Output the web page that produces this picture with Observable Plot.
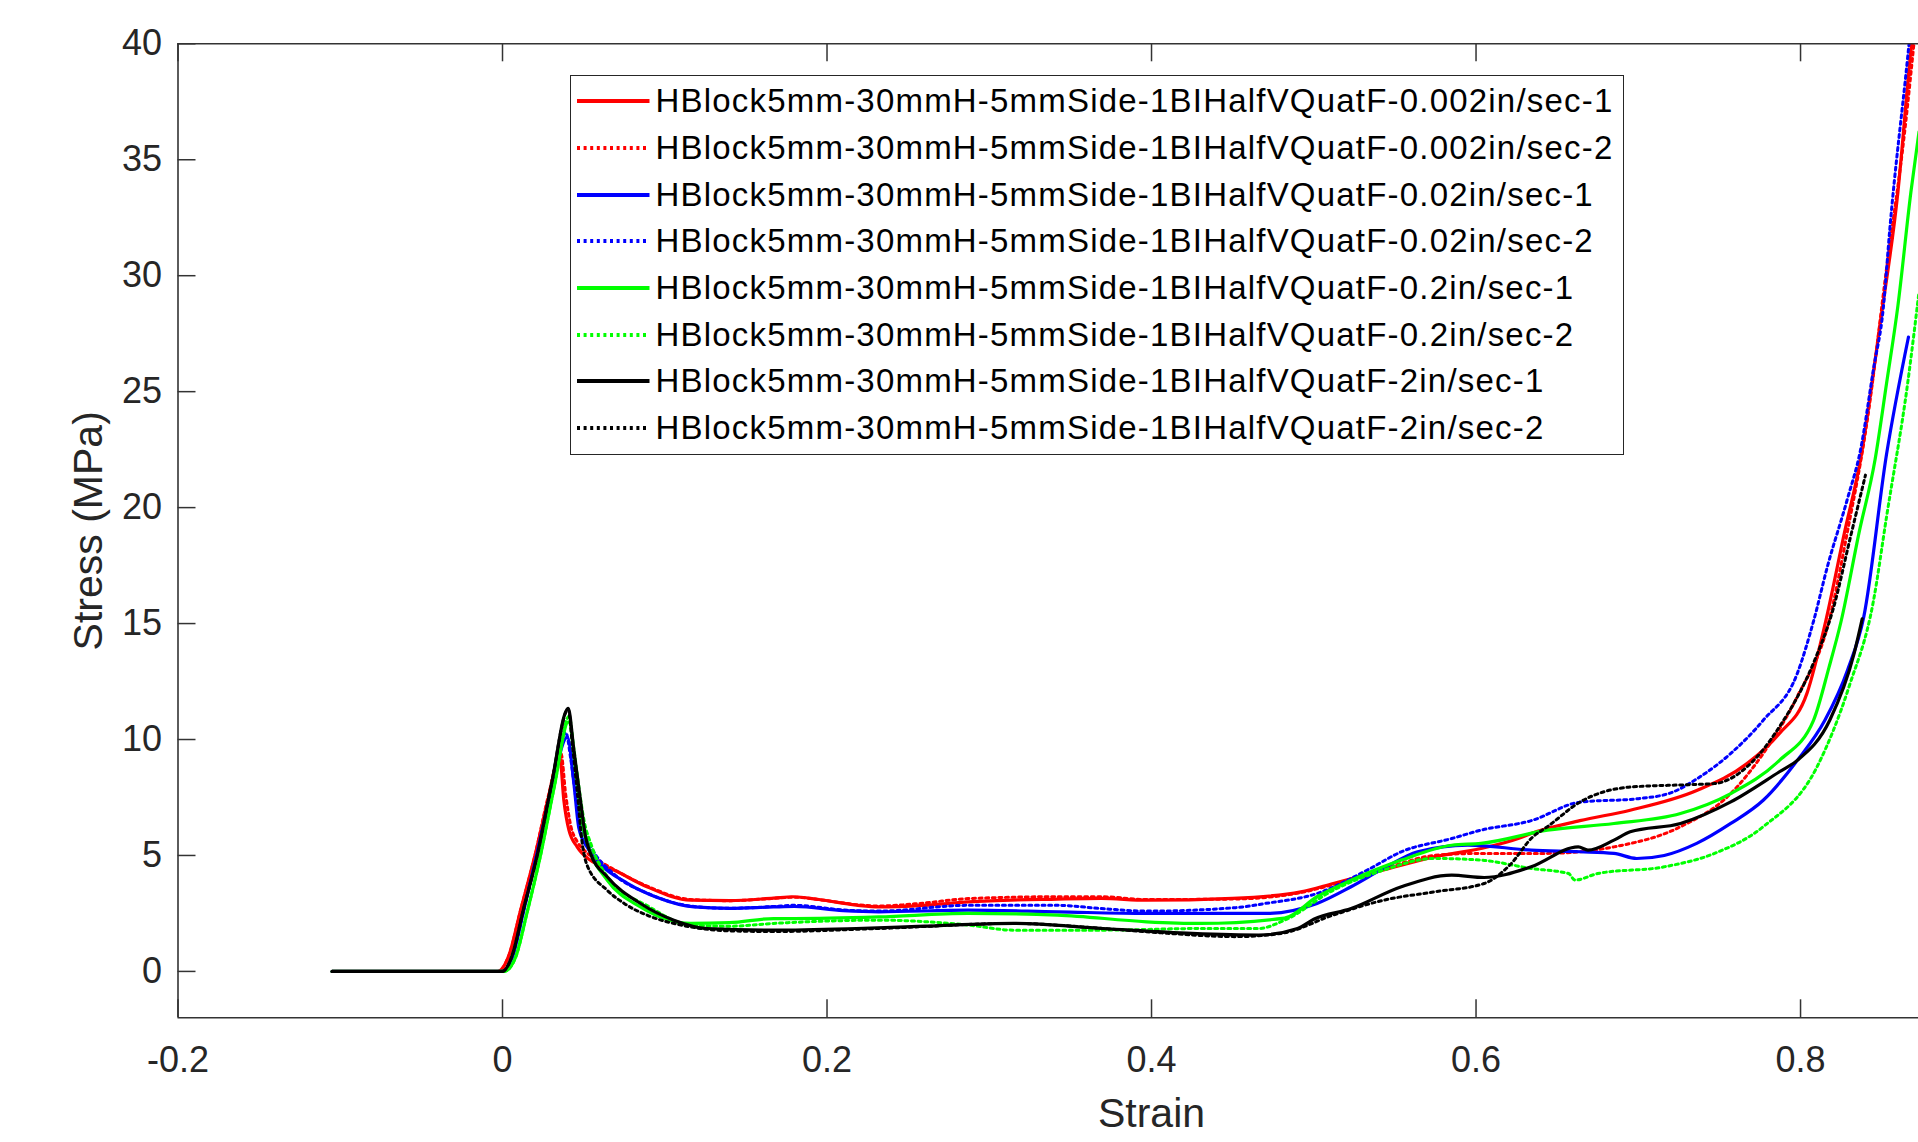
<!DOCTYPE html>
<html>
<head>
<meta charset="utf-8">
<script src="https://cdn.jsdelivr.net/npm/d3@7"></script>
<script src="https://cdn.jsdelivr.net/npm/@observablehq/plot@0.6"></script>
<style>
  html, body { margin: 0; padding: 0; background: #fff; }
  #wrap { position: relative; width: 1918px; height: 1142px; overflow: hidden; background: #fff;
          font-family: "Liberation Sans", Arial, Helvetica, sans-serif; }
  #chart { position: absolute; left: 0; top: 0; }
  #legend { position: absolute; left: 570px; top: 75px; width: 1054px; height: 380px;
            border: 1.5px solid #262626; background: #fff; box-sizing: border-box; }
  .row { position: absolute; left: 0; height: 46.7px; display: flex; align-items: center; white-space: nowrap; }
  .row svg { margin-left: 5.5px; margin-right: 6px; }
  .row span { font-size: 33px; letter-spacing: 1.2px; color: #000; }
</style>
</head>
<body>
<div id="wrap">
  <div id="chart"></div>
  <div id="legend"></div>
</div>
<script>
// ---------- Data ----------
const seriesNames = [
  "HBlock5mm-30mmH-5mmSide-1BIHalfVQuatF-0.002in/sec-1",
  "HBlock5mm-30mmH-5mmSide-1BIHalfVQuatF-0.002in/sec-2",
  "HBlock5mm-30mmH-5mmSide-1BIHalfVQuatF-0.02in/sec-1",
  "HBlock5mm-30mmH-5mmSide-1BIHalfVQuatF-0.02in/sec-2",
  "HBlock5mm-30mmH-5mmSide-1BIHalfVQuatF-0.2in/sec-1",
  "HBlock5mm-30mmH-5mmSide-1BIHalfVQuatF-0.2in/sec-2",
  "HBlock5mm-30mmH-5mmSide-1BIHalfVQuatF-2in/sec-1",
  "HBlock5mm-30mmH-5mmSide-1BIHalfVQuatF-2in/sec-2"
];
const seriesColors = ["#ff0000", "#ff0000", "#0000ff", "#0000ff", "#00ff00", "#00ff00", "#000000", "#000000"];
const seriesDotted = [false, true, false, true, false, true, false, true];

// [strain, stress (MPa)]
const red1 = [[-0.105,0],[-0.003,0],[0.004,0.7],[0.011,2.6],[0.020,5.0],[0.028,7.4],[0.0353,9.25],[0.0378,7.38],[0.0409,6.1],[0.046,5.37],[0.054,4.8],[0.0686,4.37],[0.089,3.65],[0.116,3.07],[0.14,3.05],[0.167,3.16],[0.179,3.22],[0.195,3.1],[0.218,2.86],[0.232,2.78],[0.26,2.85],[0.287,3.0],[0.342,3.12],[0.369,3.15],[0.397,3.07],[0.45,3.15],[0.492,3.43],[0.512,3.79],[0.543,4.37],[0.574,4.94],[0.603,5.3],[0.626,5.73],[0.634,5.95],[0.664,6.5],[0.695,6.95],[0.736,7.8],[0.767,8.96],[0.787,10.26],[0.804,12.0],[0.8155,15.1],[0.827,18.9],[0.837,22.1],[0.849,27.9],[0.860,33.6],[0.868,39.7],[0.872,42]];
const red2 = [[-0.105,0],[-0.003,0],[0.004,0.7],[0.011,2.6],[0.020,5.0],[0.028,7.5],[0.036,9.4],[0.039,7.6],[0.042,6.3],[0.046,5.6],[0.050,5.25],[0.060,4.75],[0.0686,4.4],[0.09,3.65],[0.116,3.1],[0.14,3.05],[0.167,3.15],[0.18,3.2],[0.2,3.05],[0.218,2.88],[0.232,2.82],[0.26,2.95],[0.287,3.14],[0.342,3.22],[0.369,3.22],[0.397,3.1],[0.45,3.12],[0.492,3.4],[0.512,3.75],[0.538,4.3],[0.554,4.66],[0.574,5.0],[0.603,5.09],[0.644,5.09],[0.685,5.37],[0.726,6.24],[0.757,7.67],[0.777,9.4],[0.798,11.85],[0.8175,15.1],[0.829,19.0],[0.841,23.7],[0.853,30.3],[0.864,36.1],[0.872,41.5]];
const blue1 = [[-0.105,0],[0,0],[0.006,0.6],[0.013,2.6],[0.021,5.0],[0.030,7.8],[0.040,10.1],[0.044,8.1],[0.047,6.2],[0.052,5.37],[0.060,4.65],[0.077,3.8],[0.095,3.2],[0.118,2.78],[0.14,2.72],[0.167,2.78],[0.18,2.8],[0.21,2.62],[0.232,2.57],[0.287,2.64],[0.342,2.57],[0.397,2.5],[0.471,2.5],[0.502,2.93],[0.523,3.65],[0.543,4.44],[0.564,5.16],[0.595,5.45],[0.634,5.23],[0.664,5.16],[0.685,5.09],[0.699,4.87],[0.716,5.0],[0.736,5.52],[0.757,6.38],[0.777,7.38],[0.798,9.1],[0.815,10.83],[0.829,13.0],[0.839,15.3],[0.853,22.3],[0.8665,27.35]];
const blue2 = [[-0.105,0],[0,0],[0.006,0.6],[0.013,2.6],[0.021,5.0],[0.030,7.8],[0.039,10.3],[0.042,9.2],[0.045,7.6],[0.049,6.2],[0.055,5.3],[0.0686,4.2],[0.09,3.35],[0.118,2.8],[0.14,2.72],[0.167,2.8],[0.18,2.85],[0.21,2.65],[0.232,2.6],[0.287,2.85],[0.342,2.85],[0.369,2.71],[0.397,2.6],[0.452,2.75],[0.47,2.93],[0.502,3.36],[0.533,4.37],[0.554,5.16],[0.585,5.73],[0.603,6.09],[0.634,6.5],[0.664,7.3],[0.70,7.45],[0.72,7.7],[0.736,8.3],[0.757,9.4],[0.777,10.83],[0.798,12.85],[0.808,15.1],[0.8165,17.44],[0.829,20.4],[0.837,22.5],[0.845,26.0],[0.851,28.6],[0.855,32.0],[0.866,39.4],[0.869,41.5]];
const green1 = [[-0.105,0],[0.001,0],[0.008,0.6],[0.015,2.5],[0.0234,5.0],[0.032,8.0],[0.0407,10.76],[0.046,8.1],[0.049,6.4],[0.053,5.37],[0.0645,3.94],[0.085,2.78],[0.116,2.07],[0.14,2.1],[0.167,2.28],[0.18,2.28],[0.232,2.35],[0.287,2.5],[0.342,2.43],[0.397,2.14],[0.43,2.07],[0.482,2.3],[0.502,3.22],[0.523,3.93],[0.554,4.8],[0.585,5.44],[0.603,5.52],[0.644,6.09],[0.685,6.38],[0.726,6.81],[0.757,7.67],[0.787,9.1],[0.808,10.83],[0.8175,13.1],[0.825,15.1],[0.836,18.9],[0.846,22.1],[0.853,25.35],[0.860,28.7],[0.868,33.6],[0.873,36.2]];
const green2 = [[-0.105,0],[0.001,0],[0.008,0.6],[0.015,2.5],[0.0234,5.0],[0.032,8.0],[0.041,11.0],[0.044,9.6],[0.047,8.0],[0.050,6.6],[0.055,5.4],[0.0645,4.1],[0.09,2.8],[0.116,2.0],[0.14,1.95],[0.167,2.07],[0.232,2.21],[0.287,2.0],[0.315,1.78],[0.37,1.78],[0.43,1.85],[0.466,1.85],[0.482,2.21],[0.512,3.5],[0.543,4.37],[0.574,4.87],[0.603,4.8],[0.634,4.44],[0.657,4.22],[0.661,3.94],[0.675,4.22],[0.716,4.51],[0.747,5.09],[0.777,6.24],[0.81,8.8],[0.83,12.3],[0.845,16.0],[0.853,19.6],[0.866,25.35],[0.873,29.3]];
const black1 = [[-0.105,0],[0,0],[0.006,0.7],[0.013,2.7],[0.0214,5.0],[0.030,8.0],[0.0405,11.34],[0.044,9.54],[0.048,7.4],[0.0512,5.8],[0.0542,5.09],[0.0645,4.08],[0.085,2.93],[0.1056,2.21],[0.126,1.85],[0.167,1.78],[0.218,1.85],[0.26,1.95],[0.315,2.07],[0.37,1.85],[0.425,1.64],[0.466,1.57],[0.49,1.85],[0.50,2.25],[0.523,2.71],[0.554,3.65],[0.585,4.15],[0.605,4.05],[0.634,4.51],[0.663,5.37],[0.669,5.23],[0.685,5.66],[0.695,6.02],[0.726,6.38],[0.757,7.31],[0.787,8.61],[0.798,9.1],[0.818,10.83],[0.833,13.7],[0.838,15.2]];
const black2 = [[-0.105,0],[0,0],[0.006,0.7],[0.013,2.7],[0.0214,5.0],[0.030,8.0],[0.0405,11.3],[0.043,9.8],[0.046,7.8],[0.049,5.6],[0.052,4.6],[0.0645,3.5],[0.075,2.93],[0.09,2.4],[0.11,2.0],[0.14,1.75],[0.167,1.72],[0.232,1.85],[0.315,2.07],[0.37,1.85],[0.397,1.71],[0.452,1.5],[0.48,1.64],[0.512,2.43],[0.543,3.07],[0.574,3.43],[0.605,3.79],[0.621,4.6],[0.635,5.8],[0.644,6.24],[0.664,7.3],[0.695,7.95],[0.73,8.05],[0.747,8.1],[0.767,8.82],[0.787,10.55],[0.808,13.3],[0.820,15.6],[0.831,18.8],[0.840,21.4]];
const seriesData = [red1, red2, blue1, blue2, green1, green2, black1, black2];

// Axes
const xTicks = [-0.2, 0, 0.2, 0.4, 0.6, 0.8];
const yTicks = [0, 5, 10, 15, 20, 25, 30, 35, 40];
const xFullDomain = [-0.2, 1.0];   // original axis range (image is cropped on the right)
const xViewMax = 0.8727;
const yDomain = [-2, 40];
const xLabel = "Strain";
const yLabel = "Stress (MPa)";

// ---------- Layout ----------
const W = 1918, H = 1142;
const mL = 177.5, mT = 43.3, mB = H - 1017.3, mR = 0;
const frameH = H - mT - mB, frameW = W - mL - mR;
const tickLen = 18;
const axisColor = "#333333";
const textColor = "#262626";
const lineWidth = 3.2;
const dotWidth = 3;
const dash = "3,3.6";

const table = seriesData.flatMap((pts, i) => pts.map(([s, v]) => ({strain: s, stress: v, series: seriesNames[i]})));

const lineMarks = seriesNames.map((name, i) =>
  Plot.line(table.filter(d => d.series === name), {
    x: "strain", y: "stress",
    stroke: seriesColors[i], strokeWidth: seriesDotted[i] ? dotWidth : lineWidth,
    strokeDasharray: seriesDotted[i] ? dash : null,
    curve: "monotone-x", clip: true
  })
);

const chart = Plot.plot({
  width: W, height: H,
  marginLeft: mL, marginRight: mR, marginTop: mT, marginBottom: mB,
  x: {domain: [xFullDomain[0], xViewMax]},
  y: {domain: yDomain},
  style: {fontFamily: '"Liberation Sans", Arial, Helvetica, sans-serif', fontSize: "36px", color: textColor, background: "transparent", overflow: "visible"},
  marks: [
    ...lineMarks,
    // inward tick marks (bottom, top, left)
    Plot.tickX(xTicks, {x: d => d, insetTop: frameH - tickLen, stroke: axisColor, strokeWidth: 1.5}),
    Plot.tickX(xTicks, {x: d => d, insetBottom: frameH - tickLen, stroke: axisColor, strokeWidth: 1.5}),
    Plot.tickY(yTicks, {y: d => d, insetRight: frameW - tickLen, stroke: axisColor, strokeWidth: 1.5}),
    // box (left, bottom, top)
    Plot.ruleY([yDomain[0], yDomain[1]], {stroke: axisColor, strokeWidth: 1.6}),
    Plot.ruleX([xFullDomain[0]], {stroke: axisColor, strokeWidth: 1.6}),
    // tick labels
    Plot.axisX(xTicks, {anchor: "bottom", tickSize: 0, tickPadding: 29, tickFormat: d => String(d), fontSize: 36, fill: textColor, label: null}),
    Plot.axisY(yTicks, {anchor: "left", tickSize: 0, tickPadding: 16, tickFormat: d => String(d), fontSize: 36, fill: textColor, label: null}),
    // axis titles
    Plot.text([(xFullDomain[0] + xFullDomain[1]) / 2], {x: d => d, text: () => xLabel, frameAnchor: "bottom", dy: 96, fontSize: 41, fill: textColor, textAnchor: "middle", lineAnchor: "middle"}),
    Plot.text([yLabel], {text: d => d, frameAnchor: "left", rotate: -90, dx: -89.2, fontSize: 41, fill: textColor, textAnchor: "middle", lineAnchor: "middle"})
  ]
});
document.getElementById("chart").appendChild(chart);

// ---------- Legend ----------
const legend = document.getElementById("legend");
seriesNames.forEach((name, i) => {
  const row = document.createElement("div");
  row.className = "row";
  row.style.top = (1.85 + i * 46.7) + "px";
  const svgNS = "http://www.w3.org/2000/svg";
  const svg = document.createElementNS(svgNS, "svg");
  svg.setAttribute("width", "73"); svg.setAttribute("height", "10");
  const ln = document.createElementNS(svgNS, "line");
  ln.setAttribute("x1", "0"); ln.setAttribute("x2", "72.5");
  ln.setAttribute("y1", "5"); ln.setAttribute("y2", "5");
  ln.setAttribute("stroke", seriesColors[i]);
  ln.setAttribute("stroke-width", "4");
  if (seriesDotted[i]) ln.setAttribute("stroke-dasharray", dash);
  svg.appendChild(ln);
  const span = document.createElement("span");
  span.textContent = name;
  row.appendChild(svg); row.appendChild(span);
  legend.appendChild(row);
});
</script>
</body>
</html>
